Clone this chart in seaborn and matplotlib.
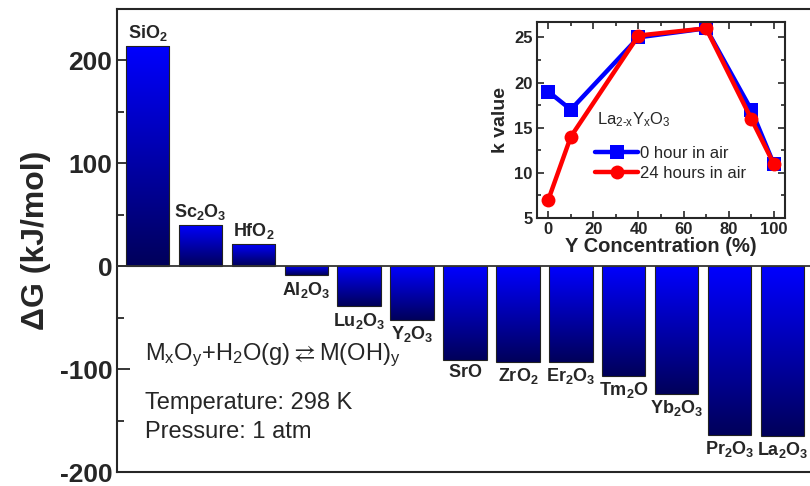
import matplotlib

matplotlib.use("Agg")
import matplotlib.pyplot as plt
import numpy as np
import pandas as pd
import seaborn as sns
from matplotlib.colors import LinearSegmentedColormap
from matplotlib.ticker import MultipleLocator

# --- data -------------------------------------------------------------
oxides = [
    r"$\mathbf{SiO_2}$", r"$\mathbf{Sc_2O_3}$", r"$\mathbf{HfO_2}$",
    r"$\mathbf{Al_2O_3}$", r"$\mathbf{Lu_2O_3}$", r"$\mathbf{Y_2O_3}$",
    r"$\mathbf{SrO}$", r"$\mathbf{ZrO_2}$", r"$\mathbf{Er_2O_3}$",
    r"$\mathbf{Tm_2O}$", r"$\mathbf{Yb_2O_3}$", r"$\mathbf{Pr_2O_3}$",
    r"$\mathbf{La_2O_3}$",
]
delta_g = [214, 40, 22, -9, -39, -52, -91, -93, -93, -107, -124, -164, -165]

y_conc = [0, 10, 40, 70, 90, 100]
k_0h = [19, 17, 25, 26, 17, 11]
k_24h = [7, 14, 25.2, 26, 16, 11]

# --- style ------------------------------------------------------------
sns.set_style("ticks")
plt.rcParams["font.family"] = ["Liberation Sans", "DejaVu Sans"]
plt.rcParams["mathtext.fontset"] = "custom"
plt.rcParams["mathtext.rm"] = "Liberation Sans"
plt.rcParams["mathtext.it"] = "Liberation Sans:italic"
plt.rcParams["mathtext.bf"] = "Liberation Sans:bold"
plt.rcParams["axes.linewidth"] = 1.5
plt.rcParams["axes.unicode_minus"] = False

fig = plt.figure(figsize=(8.1, 4.86), dpi=100)
ax = fig.add_axes([117 / 810, 14 / 486, 693 / 810, 463 / 486])

df = pd.DataFrame({"oxide": oxides, "dG": delta_g})
sns.barplot(data=df, x="oxide", y="dG", ax=ax, width=0.82, color="blue",
            edgecolor="#222222", linewidth=0.8)

# vertical gradient inside each bar (bright blue on top, navy at bottom)
grad_cmap = LinearSegmentedColormap.from_list("bar", ["#0000ff", "#00005a"])
grad = np.linspace(0, 1, 256).reshape(-1, 1)
for patch in list(ax.patches):
    bb = patch.get_bbox()
    ylo, yhi = min(bb.y0, bb.y1), max(bb.y0, bb.y1)
    im = ax.imshow(grad, cmap=grad_cmap, aspect="auto", origin="upper",
                   extent=[bb.x0, bb.x1, ylo, yhi], zorder=2)
    im.set_clip_path(patch)
    patch.set_facecolor("none")
    patch.set_zorder(3)

# labels above / below bars
for i, (name, val) in enumerate(zip(oxides, delta_g)):
    if val >= 0:
        ax.annotate(name, (i, val), xytext=(0, 2), textcoords="offset points",
                    ha="center", va="bottom", fontsize=13)
    else:
        ax.annotate(name, (i, val), xytext=(0, -3), textcoords="offset points",
                    ha="center", va="top", fontsize=13)

ax.axhline(0, color="#333333", lw=1.3, zorder=4)
ax.set_xlim(-0.577, 12.52)
ax.set_ylim(-200, 250)
ax.yaxis.set_major_locator(MultipleLocator(100))
ax.yaxis.set_minor_locator(MultipleLocator(50))
ax.tick_params(axis="y", which="major", direction="in", length=9, width=1.3,
               labelsize=19)
ax.tick_params(axis="y", which="minor", direction="in", length=5, width=1.3)
ax.tick_params(axis="x", bottom=False, labelbottom=False)
for lab in ax.get_yticklabels():
    lab.set_fontweight("bold")
ax.set_xlabel("")
ax.set_ylabel("ΔG (kJ/mol)", fontsize=23, fontweight="bold", labelpad=6)
ax.spines["right"].set_visible(False)

fig.text(145 / 810, 1 - 355 / 486,
         r"$\mathrm{M_xO_y}$+H$_2$O(g)$\rightleftarrows$M(OH)$_\mathrm{y}$",
         fontsize=17, va="center", ha="left")
fig.text(145 / 810, 1 - 403 / 486, "Temperature: 298 K", fontsize=17,
         va="center", ha="left")
fig.text(145 / 810, 1 - 432 / 486, "Pressure: 1 atm", fontsize=17,
         va="center", ha="left")

# --- inset: k value vs Y concentration ---------------------------------
ins = fig.add_axes([537 / 810, 1 - 218 / 486, 248 / 810, 196 / 486])
sns.lineplot(x=y_conc, y=k_0h, ax=ins, color="blue", lw=3.2, marker="s",
             markersize=10, markeredgewidth=0, label="0 hour in air")
sns.lineplot(x=y_conc, y=k_24h, ax=ins, color="red", lw=3.2, marker="o",
             markersize=10, markeredgewidth=0, label="24 hours in air")
ins.set_xlim(-5, 105)
ins.set_ylim(5, 26.7)
ins.xaxis.set_major_locator(MultipleLocator(20))
ins.xaxis.set_minor_locator(MultipleLocator(10))
ins.yaxis.set_major_locator(MultipleLocator(5))
ins.yaxis.set_minor_locator(MultipleLocator(2.5))
ins.tick_params(which="both", direction="in", top=True, right=True,
                width=1.2, labelsize=12, pad=3)
ins.tick_params(which="major", length=5)
ins.tick_params(which="minor", length=3)
for lab in ins.get_xticklabels() + ins.get_yticklabels():
    lab.set_fontweight("bold")
ins.set_xlabel("Y Concentration (%)", fontsize=14.5, fontweight="bold",
               labelpad=0)
ins.set_ylabel("k value", fontsize=14, fontweight="bold", labelpad=4)
ins.text(0.24, 0.50,
         r"La$_{\mathrm{2}\text{-}\mathrm{x}}$Y$_\mathrm{x}$O$_3$",
         transform=ins.transAxes, fontsize=12, ha="left", va="center")
ins.legend(loc="upper left", bbox_to_anchor=(0.2, 0.41), frameon=False,
           fontsize=12, handlelength=2.6, handletextpad=0.1,
           borderpad=0, labelspacing=0.3)

fig.savefig("out.png", dpi=100)
